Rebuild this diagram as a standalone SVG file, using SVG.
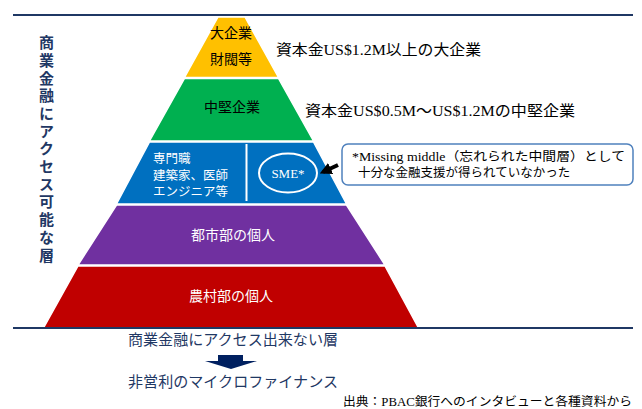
<svg xmlns="http://www.w3.org/2000/svg" width="642" height="409" viewBox="0 0 642 409">
<style>
.jp{font-family:"Liberation Serif","Noto Sans CJK JP",serif;}
.lbl{font-size:14px;fill:#000;text-anchor:middle;}
.wl{font-size:14px;fill:#fff;text-anchor:middle;}
.note{font-size:15px;fill:#000;}
.navy{fill:#1F3864;font-size:15px;}
.band{stroke:#fff;stroke-width:1.5;}
</style>
<defs>
<marker id="ah" viewBox="0 0 10 10" refX="7" refY="5" markerWidth="3" markerHeight="3.2" orient="auto"><path d="M0,0L10,5L0,10z" fill="#000"/></marker>
</defs>
<rect width="642" height="409" fill="#fff"/>
<line x1="13" y1="15" x2="633" y2="15" stroke="#1F3864" stroke-width="2"/>
<g id="large">
<polygon class="band" points="218,17 245,17 278.5,77.5 184.5,77.5" fill="#FFC000"/>
<text class="jp lbl" x="231" y="38">大企業</text>
<text class="jp lbl" x="231" y="64">財閥等</text>
</g>
<g id="mid">
<polygon class="band" points="184.5,78.5 278.5,78.5 313.5,141 149.5,141" fill="#00B050"/>
<text class="jp lbl" x="232" y="112">中堅企業</text>
</g>
<g id="prof">
<polygon class="band" points="149.5,142 313.5,142 346.5,204 116.5,204" fill="#0070C0"/>
<line x1="246.5" y1="144" x2="246.5" y2="201" stroke="#fff" stroke-width="2"/>
<text class="jp" font-size="12.5" fill="#fff" x="153" y="163">専門職</text>
<text class="jp" font-size="12.5" fill="#fff" x="153" y="180">建築家、医師</text>
<text class="jp" font-size="12.5" fill="#fff" x="153" y="196">エンジニア等</text>
</g>
<g id="sme">
<ellipse cx="288" cy="173" rx="29" ry="19.5" fill="none" stroke="#fff" stroke-width="2"/>
<text class="jp" font-size="13" fill="#fff" x="288" y="178" text-anchor="middle">SME*</text>
</g>
<g id="urban">
<polygon class="band" points="116.5,205 346.5,205 385,265 78,265" fill="#7030A0"/>
<text class="jp wl" x="233" y="240">都市部の個人</text>
</g>
<g id="rural">
<polygon class="band" points="78,266 385,266 418.5,328 43.5,328" fill="#C00000"/>
<text class="jp wl" x="231" y="301">農村部の個人</text>
</g>
<line x1="13" y1="328" x2="633" y2="328" stroke="#1F3864" stroke-width="2"/>
<g id="callout">
<rect x="342" y="144" width="291" height="41" rx="6" fill="#fff" stroke="#4F81BD" stroke-width="1.5"/>
<text class="jp" font-size="12.5" fill="#000" x="352" y="161" textLength="273" lengthAdjust="spacingAndGlyphs">*Missing middle（忘れられた中間層）として</text>
<text class="jp" font-size="12.5" fill="#000" x="358" y="177">十分な金融支援が得られていなかった</text>
</g>
<g id="connectors">
<line x1="338" y1="165" x2="323" y2="172" stroke="#000" stroke-width="4" marker-end="url(#ah)"/>
<polygon points="218,355 243,355 243,361 257,361 231,369 205,361 218,361" fill="#002060"/>
</g>
<g id="notes">
<text class="jp note" x="276" y="55" textLength="205" lengthAdjust="spacingAndGlyphs">資本金US$1.2M以上の大企業</text>
<text class="jp note" x="305" y="116" textLength="270" lengthAdjust="spacingAndGlyphs">資本金US$0.5M～US$1.2Mの中堅企業</text>
<text class="jp navy" x="45" y="35" font-weight="bold" style="writing-mode:vertical-rl;letter-spacing:2.7px">商業金融にアクセス可能な層</text>
<text class="jp navy" x="128" y="345" textLength="210" lengthAdjust="spacingAndGlyphs">商業金融にアクセス出来ない層</text>
<text class="jp navy" x="128" y="387" textLength="210" lengthAdjust="spacingAndGlyphs">非営利のマイクロファイナンス</text>
<text class="jp" font-size="12" fill="#000" x="343" y="406" textLength="289" lengthAdjust="spacingAndGlyphs">出典：PBAC銀行へのインタビューと各種資料から</text>
</g>
</svg>
